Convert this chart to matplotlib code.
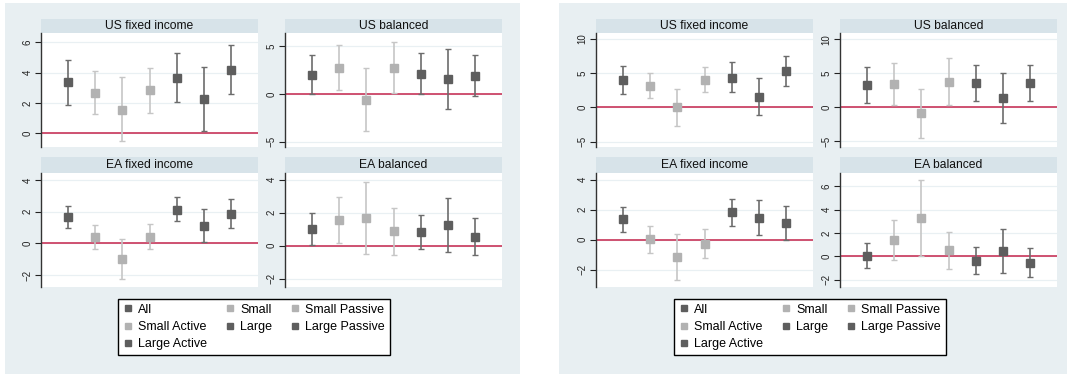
import matplotlib
matplotlib.use("Agg")
import matplotlib.pyplot as plt
from matplotlib.lines import Line2D
from matplotlib.patches import Rectangle

plt.rcParams['font.family'] = ['Liberation Sans', 'DejaVu Sans']

series = ["All", "Small", "Small Passive", "Small Active",
          "Large", "Large Passive", "Large Active"]
light = [False, True, True, True, False, False, False]
titles = ["US fixed income", "US balanced", "EA fixed income", "EA balanced"]

# left figure: estimates with lower/upper confidence bounds
l_usfi_est = [3.35, 2.67, 1.55, 2.82, 3.66, 2.23, 4.18]
l_usfi_lo = [1.86, 1.25, -0.50, 1.34, 2.08, 0.15, 2.58]
l_usfi_hi = [4.82, 4.07, 3.68, 4.29, 5.28, 4.36, 5.80]
l_usbal_est = [2.04, 2.74, -0.61, 2.74, 2.12, 1.55, 1.90]
l_usbal_lo = [0.00, 0.39, -3.93, 0.07, 0.00, -1.62, -0.25]
l_usbal_hi = [4.12, 5.18, 2.68, 5.50, 4.29, 4.72, 4.08]
l_eafi_est = [1.69, 0.42, -0.97, 0.42, 2.11, 1.10, 1.88]
l_eafi_lo = [0.97, -0.36, -2.26, -0.38, 1.40, 0.06, 0.95]
l_eafi_hi = [2.39, 1.18, 0.30, 1.23, 2.90, 2.14, 2.77]
l_eabal_est = [1.02, 1.57, 1.69, 0.89, 0.83, 1.26, 0.55]
l_eabal_lo = [0.02, 0.18, -0.51, -0.55, -0.22, -0.35, -0.57]
l_eabal_hi = [2.01, 2.93, 3.84, 2.30, 1.87, 2.91, 1.69]

# right figure
r_usfi_est = [3.95, 3.15, 0.00, 4.05, 4.35, 1.55, 5.25]
r_usfi_lo = [1.95, 1.30, -2.70, 2.20, 2.20, -1.10, 3.10]
r_usfi_hi = [6.05, 5.00, 2.65, 5.90, 6.60, 4.25, 7.45]
r_usbal_est = [3.32, 3.37, -0.90, 3.77, 3.62, 1.36, 3.62]
r_usbal_lo = [0.70, 0.35, -4.52, 0.30, 0.90, -2.31, 0.90]
r_usbal_hi = [5.98, 6.43, 2.66, 7.19, 6.23, 4.97, 6.23]
r_eafi_est = [1.37, 0.02, -1.17, -0.25, 1.84, 1.44, 1.12]
r_eafi_lo = [0.54, -0.88, -2.67, -1.19, 0.92, 0.31, 0.00]
r_eafi_hi = [2.20, 0.92, 0.36, 0.72, 2.74, 2.63, 2.27]
r_eabal_est = [0.06, 1.39, 3.28, 0.52, -0.38, 0.43, -0.55]
r_eabal_lo = [-1.01, -0.32, 0.00, -1.10, -1.54, -1.42, -1.80]
r_eabal_hi = [1.13, 3.10, 6.58, 2.12, 0.78, 2.35, 0.70]

left_data = [(l_usfi_est, l_usfi_lo, l_usfi_hi), (l_usbal_est, l_usbal_lo, l_usbal_hi),
             (l_eafi_est, l_eafi_lo, l_eafi_hi), (l_eabal_est, l_eabal_lo, l_eabal_hi)]
right_data = [(r_usfi_est, r_usfi_lo, r_usfi_hi), (r_usbal_est, r_usbal_lo, r_usbal_hi),
              (r_eafi_est, r_eafi_lo, r_eafi_hi), (r_eabal_est, r_eabal_lo, r_eabal_hi)]

left_ylims = [(-0.9, 6.6), (-5.56, 6.4), (-2.75, 4.44), (-2.5, 4.41)]
left_ticks = [[0, 2, 4, 6], [-5, 0, 5], [-2, 0, 2, 4], [-2, 0, 2, 4]]
right_ylims = [(-5.8, 10.85), (-5.83, 10.9), (-3.15, 4.45), (-2.64, 7.16)]
right_ticks = [[-5, 0, 5, 10], [-5, 0, 5, 10], [-2, 0, 2, 4], [-2, 0, 2, 4, 6]]

W, H = 1067, 374
BG = "#e8eff2"
STRIP = "#d7e3e9"
DARK, DARK_BAR = "#5e5e5e", "#6c6c6c"
LIGHT, LIGHT_BAR = "#b2b2b2", "#c6c6c6"
ZERO = "#cc4466"

fig = plt.figure(figsize=(W / 100, H / 100), dpi=100)
fig.patch.set_facecolor("white")


def px_axes(x0, y0, x1, y1):
    # pixel box (top-left origin) -> figure axes
    return fig.add_axes([x0 / W, 1 - y1 / H, (x1 - x0) / W, (y1 - y0) / H])


def draw_panel(x_off, col_x, data, ylims, ticks, legend_cx):
    fig.patches.append(Rectangle(((x_off[0]) / W, 0), (x_off[1] - x_off[0]) / W, 1 - 3 / H,
                                 transform=fig.transFigure, facecolor=BG,
                                 edgecolor="none", zorder=-10))
    rows = [(19, 33, 147), (157, 173, 287)]
    for k in range(4):
        r, c = divmod(k, 2)
        s0, p0, p1 = rows[r]
        xa, xb = col_x[c]
        st = px_axes(xa, s0, xb, p0)
        st.set_facecolor(STRIP)
        st.set_xticks([])
        st.set_yticks([])
        for sp in st.spines.values():
            sp.set_visible(False)
        st.text(0.5, 0.5, titles[k], ha="center", va="center", fontsize=8.7,
                color="#111111", transform=st.transAxes)

        ax = px_axes(xa, p0, xb, p1)
        est, lo, hi = data[k]
        for i in range(len(series)):
            mc = LIGHT if light[i] else DARK
            bc = LIGHT_BAR if light[i] else DARK_BAR
            ax.errorbar([i + 1], [est[i]], yerr=[[est[i] - lo[i]], [hi[i] - est[i]]],
                        fmt="s", color=mc, ecolor=bc, elinewidth=1.2, capsize=2.5,
                        capthick=1.0, markersize=5.5, zorder=3)
        ax.axhline(0, color=ZERO, lw=1.3, zorder=2)
        ax.set_xlim(0, 8)
        ax.set_ylim(*ylims[k])
        ax.set_yticks(ticks[k])
        ax.set_xticks([])
        ax.grid(axis="y", color="#e9f0f3", lw=0.9, zorder=0)
        ax.tick_params(axis="y", labelsize=7, length=4, width=0.8,
                       colors="#222222", pad=2)
        for lab in ax.get_yticklabels():
            lab.set_rotation(90)
            lab.set_va("center")
        for side in ["top", "right", "bottom"]:
            ax.spines[side].set_visible(False)
        ax.spines["left"].set_color("#333333")
        ax.spines["left"].set_linewidth(1.0)

    # legend rows fill left to right, matplotlib fills by column
    order = [0, 3, 6, 1, 4, 2, 5]
    handles = [Line2D([], [], marker="s", linestyle="none", markersize=4,
                      color=LIGHT if light[i] else DARK) for i in order]
    leg = fig.legend(handles, [series[i] for i in order], ncol=3, loc="center",
                     bbox_to_anchor=(legend_cx / W, 1 - 327 / H), fontsize=9,
                     frameon=True, fancybox=False, edgecolor="black", framealpha=1,
                     handlelength=0.8, handletextpad=0.4, columnspacing=1.45,
                     labelspacing=0.42, borderpad=0.4, borderaxespad=0)
    leg.get_frame().set_linewidth(1.0)


draw_panel((5, 520), [(41, 258), (285, 502)], left_data, left_ylims, left_ticks, 254)
draw_panel((559, 1067), [(596, 813), (840, 1057)], right_data, right_ylims, right_ticks, 810)

fig.savefig("out.png", dpi=100, facecolor=fig.get_facecolor())
